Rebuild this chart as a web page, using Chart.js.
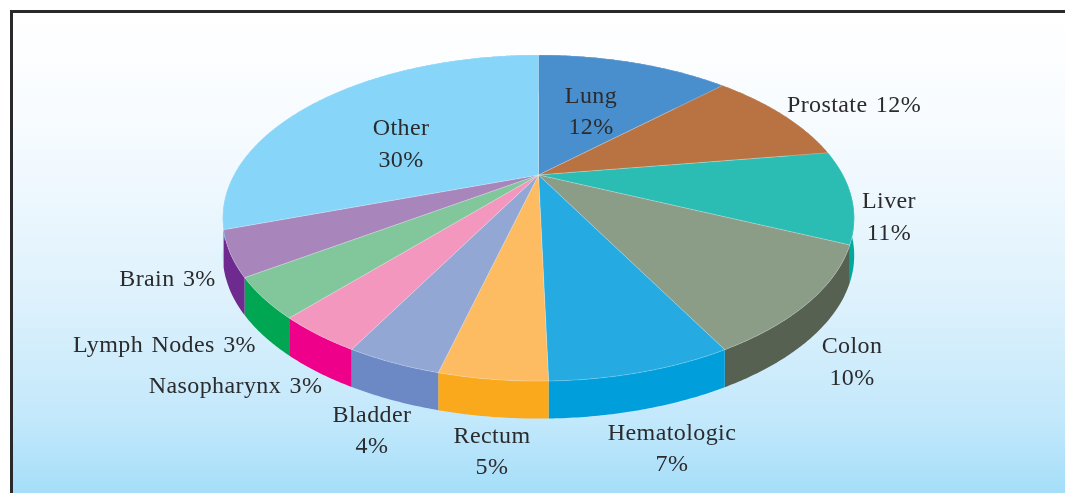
<!DOCTYPE html>
<html>
<head>
<meta charset="utf-8">
<style>html,body{margin:0;padding:0;background:#fff}canvas{display:block}</style>
<script src="https://cdn.jsdelivr.net/npm/chart.js@4"></script>
</head>
<body>
<canvas id="c" width="1065" height="493"></canvas>
<script>
const categories = ['Lung','Prostate','Liver','Colon','Hematologic','Rectum','Bladder','Nasopharynx','Lymph Nodes','Brain','Other'];
const printedPercents = ['12%','12%','11%','10%','7%','5%','4%','3%','3%','3%','30%'];
// Slice shares as drawn in the picture (angles read back through the perspective)
const sliceShares = [12.7,9.88,9.17,10.48,7.38,4.33,3.86,3.58,3.89,4.39,30.34];
const topColors = ['#4A8FCD','#B97342','#2BBCB4','#8B9C87','#25ABE2','#FEBC62','#93A7D5','#F497BF','#82C79C','#A886BC','#87D5F8'];
const wallColors = ['#3A78B0','#96592F','#00A99D','#566152','#009EDB','#FBA91C','#6C89C5','#EE008B','#00A651','#6E2A8E','#5FC3EE'];

const view = {cx:538.5, cy:175, ax:304.5, by:151.7, k:0.264, depth:37.5};
const labelLayout = [
  {x:591,y:[103,134]},{x:854,y:[112]},{x:889,y:[208,240]},{x:852,y:[353,385]},
  {x:672,y:[440,471]},{x:492,y:[443,474]},{x:372,y:[422,453]},{x:235.5,y:[393]},
  {x:164.5,y:[352]},{x:167.5,y:[286]},{x:401,y:[135,167]}
];

function project(a, d){
  const u=Math.cos(a), v=Math.sin(a), s=1-view.k*v;
  return [view.cx+view.ax*u/s, view.cy+view.by*v/s+d];
}
function arcPoints(a0,a1,d){
  const n=Math.max(2,Math.ceil(Math.abs(a1-a0)/(Math.PI/360))), p=[];
  for(let i=0;i<=n;i++) p.push(project(a0+(a1-a0)*i/n,d));
  return p;
}
function tracePoly(ctx,pts){
  ctx.beginPath();
  pts.forEach((q,i)=>i?ctx.lineTo(q[0],q[1]):ctx.moveTo(q[0],q[1]));
  ctx.closePath();
}
const backdrop = {
  id:'backdrop',
  beforeDraw(chart){
    const ctx=chart.ctx, W=chart.width, H=chart.height;
    ctx.save();
    ctx.fillStyle='#fff'; ctx.fillRect(0,0,W,H);
    const g=ctx.createLinearGradient(0,13,0,H);
    g.addColorStop(0,'#FFFFFF'); g.addColorStop(0.25,'#F6FBFF');
    g.addColorStop(0.6,'#DDF1FC'); g.addColorStop(0.85,'#C2E8FB'); g.addColorStop(1,'#A5DEF9');
    ctx.fillStyle=g; ctx.fillRect(13,13,W-13,H-13);
    ctx.fillStyle='#2A2A2C';
    ctx.fillRect(10,10,W-10,3); ctx.fillRect(10,10,3,H-10);
    ctx.restore();
  }
};
const tilted = {
  id:'tilted',
  beforeDatasetDraw(chart,args){
    const ctx=chart.ctx, arcs=args.meta.data;
    ctx.save();
    arcs.forEach((el,i)=>{
      const p=el.getProps(['startAngle','endAngle'],true);
      const pts=arcPoints(p.startAngle,p.endAngle,0).concat(arcPoints(p.endAngle,p.startAngle,view.depth));
      tracePoly(ctx,pts);
      ctx.fillStyle=wallColors[i]; ctx.fill();
    });
    arcs.forEach((el,i)=>{
      const p=el.getProps(['startAngle','endAngle'],true);
      const pts=[[view.cx,view.cy]].concat(arcPoints(p.startAngle,p.endAngle,0));
      tracePoly(ctx,pts);
      ctx.fillStyle=topColors[i]; ctx.fill();
      ctx.strokeStyle='rgba(255,255,255,0.35)'; ctx.lineWidth=0.6; ctx.stroke();
    });
    ctx.restore();
    return false;
  },
  afterDatasetsDraw(chart){
    const ctx=chart.ctx;
    ctx.save();
    ctx.font='24px "Liberation Serif"';
    ctx.letterSpacing='0.4px';
    ctx.wordSpacing='2px';
    ctx.fillStyle='#2B2B2D';
    ctx.textAlign='center';
    ctx.textBaseline='alphabetic';
    categories.forEach((name,i)=>{
      const l=labelLayout[i];
      const lines=l.y.length>1?[name,printedPercents[i]]:[name+' '+printedPercents[i]];
      lines.forEach((t,j)=>ctx.fillText(t,l.x,l.y[j]));
    });
    ctx.restore();
  }
};
new Chart(document.getElementById('c'),{
  type:'pie',
  data:{labels:categories,datasets:[{data:sliceShares,backgroundColor:topColors,borderWidth:0}]},
  options:{
    responsive:false,animation:false,
    events:[],
    plugins:{legend:{display:false},tooltip:{enabled:false}}
  },
  plugins:[backdrop,tilted]
});
</script>
</body>
</html>
